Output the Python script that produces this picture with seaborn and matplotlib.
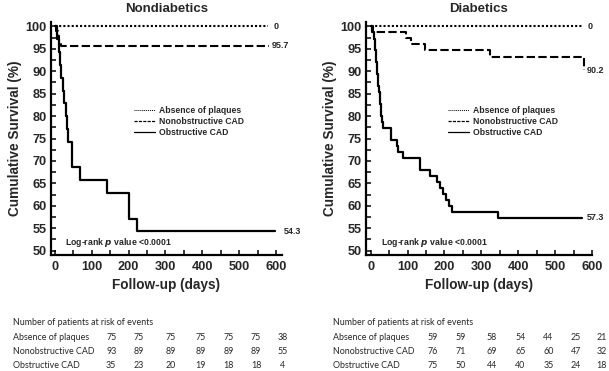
import matplotlib
matplotlib.use("Agg")
import matplotlib.pyplot as plt
from matplotlib.lines import Line2D
from matplotlib.ticker import MultipleLocator
import seaborn as sns
import pandas as pd

# ---------------- data ----------------
nd_absent_t = [0, 578]
nd_absent_s = [100, 100]
nd_nonobs_t = [0, 3, 8, 12, 17, 580]
nd_nonobs_s = [100, 98.9, 97.8, 96.8, 95.7, 95.7]
nd_obs_t = [0, 5, 12, 14, 17, 21, 25, 30, 32, 35, 46, 48, 68, 142, 201, 223, 598]
nd_obs_s = [100, 97.1, 94.3, 91.4, 88.6, 85.7, 82.9, 80.0, 77.1, 74.3, 71.4, 68.6,
            65.7, 62.9, 57.1, 54.3, 54.3]

d_absent_t = [0, 573]
d_absent_s = [100, 100]
d_nonobs_t = [0, 7, 97, 110, 147, 324, 579]
d_nonobs_s = [100, 98.7, 97.4, 96.1, 94.7, 93.2, 90.2]
d_obs_t = [0, 4, 9, 11, 13, 14, 15, 17, 18, 20, 21, 22, 24, 25, 27, 29, 31, 34,
           54, 70, 75, 88, 135, 160, 180, 188, 195, 205, 212, 220, 345, 574]
d_obs_s = [100, 98.7, 97.3, 96.0, 94.7, 93.3, 92.0, 90.7, 89.3, 88.0, 86.7, 85.3,
           84.0, 82.7, 81.3, 80.0, 78.7, 77.3, 74.7, 73.3, 72.0, 70.7, 68.0, 66.7,
           65.3, 64.0, 62.7, 61.3, 60.0, 58.7, 57.3, 57.3]

end_labels_nd = ["0", "95.7", "54.3"]
end_labels_d = ["0", "90.2", "57.3"]

groups = ["Absence of plaques", "Nonobstructive CAD", "Obstructive CAD"]
risk_nd = [[75, 75, 75, 75, 75, 75, 38],
           [93, 89, 89, 89, 89, 89, 55],
           [35, 23, 20, 19, 18, 18, 4]]
risk_d = [[59, 59, 58, 54, 44, 25, 21],
          [76, 71, 69, 65, 60, 47, 32],
          [75, 50, 44, 40, 35, 24, 18]]

# ---------------- style ----------------
sns.set_theme(style="ticks")
plt.rcParams["font.family"] = ["Liberation Sans", "DejaVu Sans"]
plt.rcParams["font.weight"] = "bold"

W, H = 609, 371
fig = plt.figure(figsize=(W / 100, H / 100), dpi=100)


def px_axes(x0, x1, ytop, ybot):
    return fig.add_axes([x0 / W, (H - ybot) / H, (x1 - x0) / W, (ybot - ytop) / H])


axL = px_axes(50.7, 282, 22, 255)
axR = px_axes(365.7, 592, 22, 255)

styles = [dict(ls=(0, (1, 1)), lw=1.5), dict(ls=(0, (4, 1.6)), lw=1.5), dict(ls="-", lw=1.6)]


def draw(ax, series, labels, label_x, title, xlim, lr_x):
    for (t, s), st, lab, lx in zip(series, styles, labels, label_x):
        df = pd.DataFrame({"t": t, "s": s})
        sns.lineplot(data=df, x="t", y="s", ax=ax, color="black", estimator=None,
                     sort=False, drawstyle="steps-post", linestyle=st["ls"],
                     linewidth=st["lw"])
        ax.text(lx, s[-1], lab, fontsize=6.5, fontweight="bold", va="center",
                ha="left", clip_on=False)
    ax.set_xlim(*xlim)
    ax.set_ylim(49, 101)
    ax.xaxis.set_major_locator(MultipleLocator(100))
    ax.xaxis.set_minor_locator(MultipleLocator(50))
    ax.yaxis.set_major_locator(MultipleLocator(5))
    ax.yaxis.set_minor_locator(MultipleLocator(2.5))
    ax.tick_params(which="both", direction="in", length=3.5, width=1.1, color="black")
    ax.tick_params(axis="x", which="major", labelsize=9.2, pad=4.5)
    ax.tick_params(axis="y", which="major", labelsize=9.2, pad=3)
    for lab in ax.get_xticklabels() + ax.get_yticklabels():
        lab.set_fontweight("bold")
    for sp in ["top", "right"]:
        ax.spines[sp].set_visible(False)
    for sp in ["left", "bottom"]:
        ax.spines[sp].set_linewidth(1.6)
        ax.spines[sp].set_color("black")
    ax.set_xlabel("Follow-up (days)", fontsize=9.8, fontweight="bold", labelpad=3.5)
    ax.set_ylabel("Cumulative Survival (%)", fontsize=9.8, fontweight="bold", labelpad=2.5)
    ax.set_title(title, fontsize=9.5, fontweight="bold", pad=7)
    ax.text(lr_x, 0.052, "Log-rank $\\boldsymbol{p}$ value <0.0001", transform=ax.transAxes,
            fontsize=6.3, fontweight="bold", va="center", ha="left")
    handles = [Line2D([], [], color="black", ls=(0, (1, 1)), lw=0.7),
               Line2D([], [], color="black", ls=(0, (2.5, 1)), lw=0.9),
               Line2D([], [], color="black", ls="-", lw=0.9)]
    return handles


hL = draw(axL, [(nd_absent_t, nd_absent_s), (nd_nonobs_t, nd_nonobs_s), (nd_obs_t, nd_obs_s)],
          end_labels_nd, [592, 589, 622], "Nondiabetics", (-11, 616), 0.062)
hR = draw(axR, [(d_absent_t, d_absent_s), (d_nonobs_t, d_nonobs_s), (d_obs_t, d_obs_s)],
          end_labels_d, [587, 585, 585], "Diabetics", (-13.5, 600), 0.068)

for ax, h, bx in [(axL, hL, 0.36), (axR, hR, 0.365)]:
    leg = ax.legend(h, groups, loc="upper left", bbox_to_anchor=(bx, 0.64), frameon=False,
                    fontsize=6.2, handlelength=2.4, handletextpad=0.5, labelspacing=0.25,
                    borderpad=0, borderaxespad=0)
    for t in leg.get_texts():
        t.set_fontweight("bold")

# ---------------- risk tables ----------------
tfont = ["Lato", "DejaVu Sans"]


def table(xlabel, xcols, data):
    fig.text(xlabel / W, 1 - 322.7 / H, "Number of patients at risk of events", fontsize=6.4,
             family=tfont, fontweight="normal", va="center", ha="left")
    for r, (g, row) in enumerate(zip(groups, data)):
        yy = 1 - (337.7 + 14 * r) / H
        fig.text(xlabel / W, yy, g, fontsize=6.4, family=tfont, fontweight="normal",
                 va="center", ha="left")
        for xc, v in zip(xcols, row):
            fig.text(xc / W, yy, str(v), fontsize=6.4, family=tfont, fontweight="normal",
                     va="center", ha="center")


table(13, [111.2, 138.8, 170.8, 200.3, 228.7, 256, 282.5], risk_nd)
table(333.3, [432.5, 460.5, 491.7, 520.5, 548.3, 575.7, 601.3], risk_d)

fig.savefig("out.png", dpi=100)
